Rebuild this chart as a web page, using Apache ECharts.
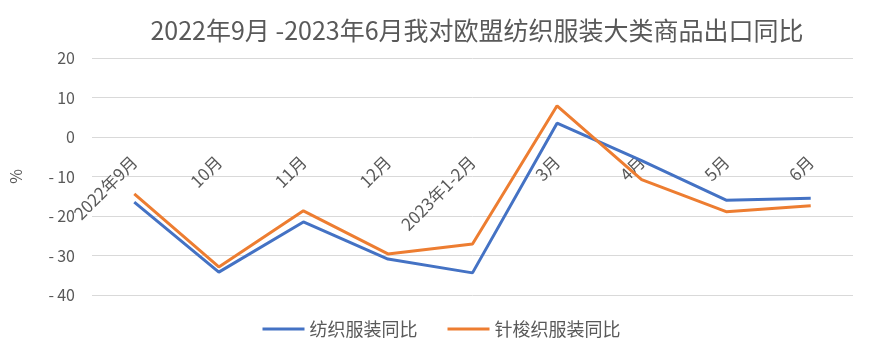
<!DOCTYPE html>
<html><head><meta charset="utf-8">
<script src="https://cdn.jsdelivr.net/npm/echarts@6/dist/echarts.min.js"></script>
<style>html,body{margin:0;padding:0;background:#fff}#c{width:883px;height:355px}</style>
</head><body><div id="c"></div>
<script>
var categories = ['2022年9月','10月','11月','12月','2023年1-2月','3月','4月','5月','6月'];
var textileApparel = [-16.5, -34.2, -21.5, -30.9, -34.4, 3.5, -6.0, -16.0, -15.5];
var knitApparel = [-14.4, -32.9, -18.7, -29.6, -27.1, 7.9, -10.8, -18.9, -17.4];
var seriesNames = ['纺织服装同比', '针梭织服装同比'];
var yTicks = {min: -40, max: 20, interval: 10};

var font = '"Noto Sans CJK SC", "Noto Sans", sans-serif';
var chart = echarts.init(document.getElementById('c'));
chart.setOption({
  animation: false,
  textStyle: {fontFamily: font},
  title: {
    text: '2022年9月 -2023年6月我对欧盟纺织服装大类商品出口同比',
    left: 472, top: 13, textAlign: 'center',
    textStyle: {fontFamily: font, fontSize: 25, fontWeight: 'normal', color: '#595959'}
  },
  legend: {
    bottom: 12, left: 'center', itemWidth: 42, itemHeight: 3, itemGap: 30,
    icon: 'rect',
    textStyle: {fontFamily: font, fontSize: 18, color: '#595959'},
    data: seriesNames
  },
  grid: {left: 92, right: 30, top: 58, bottom: 60, containLabel: false, outerBoundsMode: 'none'},
  xAxis: {
    type: 'category', data: categories, boundaryGap: true,
    offset: -158,
    axisLine: {show: false, onZero: false},
    axisTick: {show: false},
    axisLabel: {rotate: 45, margin: 22, fontSize: 17, color: '#595959', interval: 0, fontFamily: font}
  },
  yAxis: {
    type: 'value', min: yTicks.min, max: yTicks.max, interval: yTicks.interval,
    name: '%', nameLocation: 'middle', nameGap: 68, nameRotate: 90,
    nameTextStyle: {fontSize: 16, color: '#595959', fontFamily: font},
    axisLine: {show: false}, axisTick: {show: false},
    axisLabel: {fontSize: 16, color: '#595959', margin: 17, fontFamily: font,
      formatter: function (v) { return v < 0 ? '-' + '\u2009' + Math.abs(v) : String(v); }},
    splitLine: {lineStyle: {color: '#d9d9d9'}}
  },
  series: [
    {name: seriesNames[0], type: 'line', data: textileApparel, symbol: 'none',
     lineStyle: {width: 3, color: '#4472C4'}, itemStyle: {color: '#4472C4'}},
    {name: seriesNames[1], type: 'line', data: knitApparel, symbol: 'none',
     lineStyle: {width: 3, color: '#ED7D31'}, itemStyle: {color: '#ED7D31'}}
  ]
});
</script></body></html>
